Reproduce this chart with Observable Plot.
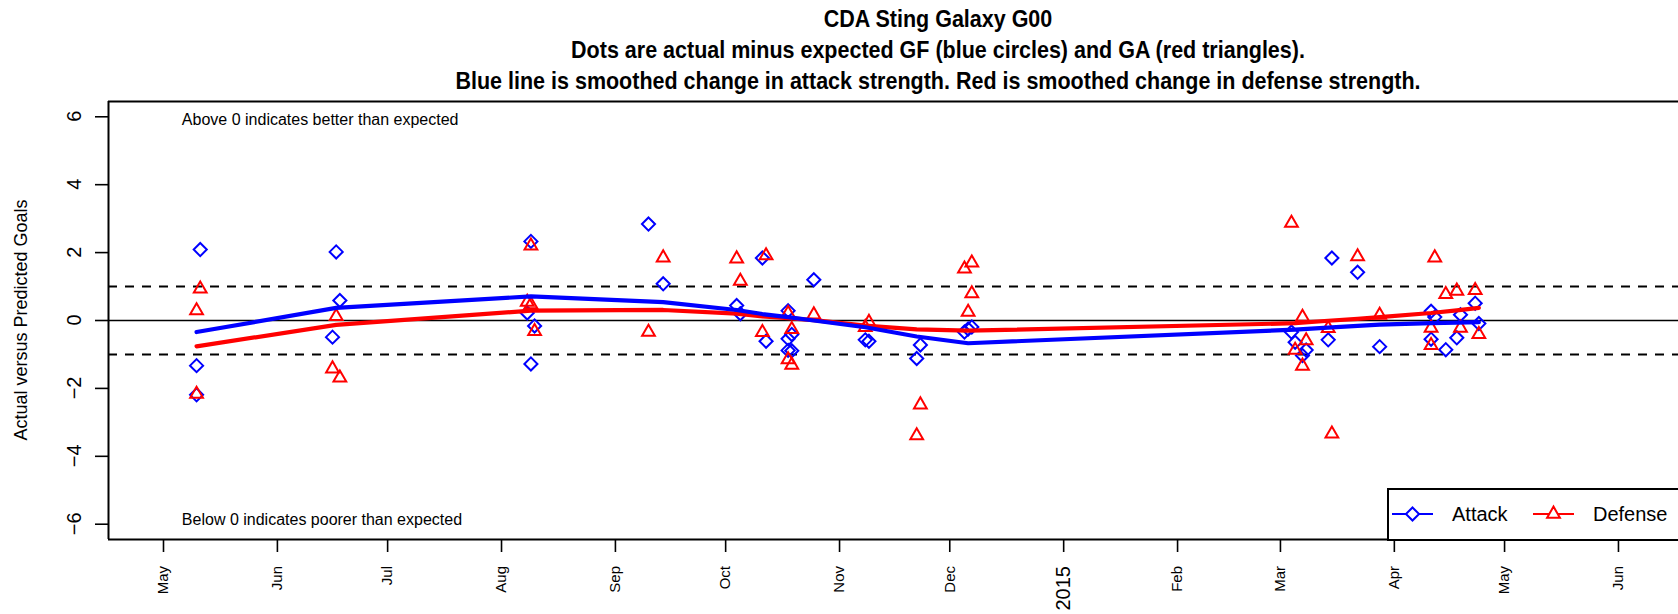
<!DOCTYPE html>
<html><head><meta charset="utf-8">
<script src="https://cdn.jsdelivr.net/npm/d3@7"></script>
<script src="https://cdn.jsdelivr.net/npm/@observablehq/plot@0.6"></script>
<style>
body{margin:0;background:#fff;}
#wrap{position:relative;width:1678px;height:614px;overflow:hidden;font-family:"Liberation Sans",Arial,Helvetica,sans-serif;}
#wrap svg{position:absolute;left:0;top:0;}
#legend{position:absolute;left:1387px;top:488px;width:400px;height:49px;border:2px solid #000;background:#fff;box-sizing:content-box;}
</style></head><body>
<div id="wrap"></div>
<script>
// ---- data ----
const titleLines = [
  "CDA Sting Galaxy G00",
  "Dots are actual minus expected GF (blue circles) and GA (red triangles).",
  "Blue line is smoothed change in attack strength. Red is smoothed change in defense strength."
];
const yLabel = "Actual versus Predicted Goals";
const attackDates = ["2014-05-11","2014-05-10","2014-05-10","2014-06-17","2014-06-18","2014-06-16",
  "2014-08-09","2014-08-08","2014-08-10","2014-08-09","2014-09-10","2014-09-14","2014-10-04","2014-10-05",
  "2014-10-11","2014-10-12","2014-10-18","2014-10-19","2014-10-18","2014-10-18","2014-10-19","2014-10-25",
  "2014-11-08","2014-11-09","2014-11-23","2014-11-22","2014-12-05","2014-12-06","2014-12-07",
  "2015-03-04","2015-03-05","2015-03-08","2015-03-07","2015-03-15","2015-03-14","2015-03-22","2015-03-28",
  "2015-04-11","2015-04-12","2015-04-11","2015-04-15","2015-04-19","2015-04-18","2015-04-23","2015-04-24"];
const attackValues = [2.09,-1.33,-2.19,2.02,0.59,-0.49,
  2.33,0.22,-0.16,-1.28,2.84,1.08,0.44,0.2,
  1.84,-0.61,0.29,-0.41,-0.54,-0.88,-0.89,1.2,
  -0.57,-0.61,-0.72,-1.12,-0.34,-0.25,-0.19,
  -0.34,-0.64,-0.87,-1.03,1.84,-0.57,1.42,-0.77,
  0.27,0.1,-0.55,-0.86,0.17,-0.51,0.51,-0.09];
const defenseDates = ["2014-05-11","2014-05-10","2014-05-10","2014-06-17","2014-06-16","2014-06-18",
  "2014-08-09","2014-08-08","2014-08-09","2014-08-10","2014-09-14","2014-09-10","2014-10-04","2014-10-05",
  "2014-10-11","2014-10-12","2014-10-18","2014-10-19","2014-10-18","2014-10-19","2014-10-25",
  "2014-11-09","2014-11-08","2014-11-23","2014-11-22","2014-12-05","2014-12-07","2014-12-07","2014-12-06",
  "2015-03-04","2015-03-07","2015-03-08","2015-03-05","2015-03-07","2015-03-14","2015-03-15","2015-03-22","2015-03-28",
  "2015-04-12","2015-04-11","2015-04-11","2015-04-15","2015-04-18","2015-04-19","2015-04-23","2015-04-24"];
const defenseValues = [0.93,0.29,-2.17,0.12,-1.42,-1.69,
  2.2,0.54,0.47,-0.32,1.85,-0.34,1.82,1.16,
  -0.35,1.91,0.21,-0.26,-1.15,-1.31,0.17,
  -0.05,-0.2,-2.48,-3.39,1.52,1.7,0.79,0.25,
  2.87,0.1,-0.59,-0.87,-1.34,-0.23,-3.34,1.88,0.16,
  1.85,-0.22,-0.73,0.77,0.87,-0.22,0.89,-0.41];
const smoothDates = ["2014-05-10","2014-06-17","2014-08-09","2014-09-14","2014-10-04","2014-10-11",
  "2014-10-18","2014-10-25","2014-11-08","2014-11-22","2014-12-06","2015-03-05","2015-03-15",
  "2015-03-22","2015-03-28","2015-04-11","2015-04-18","2015-04-24"];
const attackSmooth = [-0.34,0.37,0.71,0.54,0.31,0.19,0.1,0.0,-0.2,-0.47,-0.67,-0.27,-0.2,-0.16,-0.12,-0.08,-0.06,-0.05];
const defenseSmooth = [-0.76,-0.13,0.29,0.31,0.2,0.12,0.07,0.01,-0.15,-0.26,-0.3,-0.08,0.0,0.05,0.1,0.22,0.3,0.37];
const monthTickDates = ["2014-05-01","2014-06-01","2014-07-01","2014-08-01","2014-09-01","2014-10-01",
  "2014-11-01","2014-12-01","2015-02-01","2015-03-01","2015-04-01","2015-05-01","2015-06-01"];
const monthTickLabels = ["May","Jun","Jul","Aug","Sep","Oct","Nov","Dec","Feb","Mar","Apr","May","Jun"];
const yearTickDates = ["2015-01-01"];
const yearTickLabels = ["2015"];
const yTicks = [-6,-4,-2,0,2,4,6];
const bandLines = [-1,1];
const noteTexts = ["Above 0 indicates better than expected","Below 0 indicates poorer than expected"];
const noteDates = ["2014-05-06","2014-05-06"];
const noteValues = [5.92,-5.87];
const legendNames = ["Attack","Defense"];

// ---- tables ----
const attack = attackDates.map((d,i)=>({date:new Date(d), v:attackValues[i]}));
const defense = defenseDates.map((d,i)=>({date:new Date(d), v:defenseValues[i]}));
const smoothA = smoothDates.map((d,i)=>({date:new Date(d), v:attackSmooth[i]}));
const smoothD = smoothDates.map((d,i)=>({date:new Date(d), v:defenseSmooth[i]}));
const notes = noteTexts.map((t,i)=>({text:t, date:new Date(noteDates[i]), v:noteValues[i]}));
const mTicks = monthTickDates.map((d,i)=>({date:new Date(d), label:monthTickLabels[i], size:15}));
const yrTicks = yearTickDates.map((d,i)=>({date:new Date(d), label:yearTickLabels[i], size:20}));
const allTicks = mTicks.concat(yrTicks);

const xDomain = [new Date("2014-04-16T00:45Z"), new Date("2015-06-17T08:10Z")];
const yDomain = [-6.45, 6.45];
const BLUE = "#0000ff", RED = "#ff0000";
const fmtY = d => d < 0 ? "\u2212" + Math.abs(d) : String(d);
const TICK = 13, LABEL_GAP = 27;
const ML = 108, MT = 101, MB = 75, W = 1678, H = 614;

const chart = Plot.plot({
  width: W, height: H,
  marginLeft: ML, marginRight: 0, marginTop: MT, marginBottom: MB,
  style: {fontFamily: '"Liberation Sans", Arial, Helvetica, sans-serif', background: "white", color: "black"},
  x: {type: "utc", domain: xDomain},
  y: {domain: yDomain},
  marks: [
    Plot.ruleY([0], {stroke: "black", strokeWidth: 1.6}),
    Plot.ruleY(bandLines, {stroke: "black", strokeWidth: 2, strokeDasharray: "9,8"}),
    Plot.dot(attack, {x: "date", y: "v", symbol: "diamond2", r: 5.9, stroke: BLUE, strokeWidth: 2, fill: "none"}),
    Plot.dot(defense, {x: "date", y: "v", symbol: "triangle2", r: 6.1, stroke: RED, strokeWidth: 2, fill: "none"}),
    Plot.line(smoothD, {x: "date", y: "v", stroke: RED, strokeWidth: 4.2, curve: "linear"}),
    Plot.line(smoothA, {x: "date", y: "v", stroke: BLUE, strokeWidth: 4.2, curve: "linear"}),
    Plot.text(notes, {x: "date", y: "v", text: "text", textAnchor: "start", lineAnchor: "middle", fontSize: 16, fill: "black"}),
    // box (left, top, bottom; right side lies beyond the picture)
    Plot.ruleX([xDomain[0]], {stroke: "black", strokeWidth: 2}),
    Plot.ruleY(yDomain, {stroke: "black", strokeWidth: 2}),
    // ticks (labels drawn below with the same scales)
    Plot.axisY(yTicks, {tickSize: TICK, strokeWidth: 1.6, tickFormat: () => "", label: null}),
    Plot.axisX(allTicks.map(d => d.date), {tickSize: TICK, strokeWidth: 1.6, tickFormat: () => "", label: null})
  ]
});

const wrap = document.getElementById("wrap");
wrap.appendChild(chart);
const xs = chart.scale("x"), ys = chart.scale("y");

const over = d3.select(wrap).append("svg").attr("width", W).attr("height", H).style("pointer-events","none")
  .attr("font-family", '"Liberation Sans", Arial, Helvetica, sans-serif');

// y tick labels (rotated, reading upward, baseline toward the axis)
over.selectAll("text.yt").data(yTicks).join("text").attr("class","yt")
  .attr("transform", d => `translate(${ML - LABEL_GAP},${ys.apply(d)}) rotate(-90)`)
  .attr("text-anchor","middle").attr("font-size",20).attr("fill","black").text(fmtY);

// x tick labels (rotated, top end 27px below the axis)
over.selectAll("text.xt").data(allTicks).join("text").attr("class","xt")
  .attr("transform", d => `translate(${xs.apply(d.date)},${H - MB + LABEL_GAP}) rotate(-90)`)
  .attr("text-anchor","end").attr("dy","0.35em").attr("font-size", d => d.size).attr("fill","black").text(d => d.label);

// titles (slightly condensed bold face)
const titleX = 938, titleBase = [26.5, 57.5, 88.5];
over.selectAll("text.t").data(titleLines).join("text").attr("class","t")
  .attr("transform",(d,i)=>`translate(${titleX},${titleBase[i]}) scale(0.915,1)`).attr("text-anchor","middle")
  .attr("font-weight","bold").attr("font-size",23.5).attr("fill","black").text(d=>d);
// y axis label
over.append("text").attr("transform",`translate(27,${(MT + H - MB) / 2}) rotate(-90)`).attr("text-anchor","middle")
  .attr("font-size",18).attr("fill","black").text(yLabel);

// legend
const leg = d3.select(wrap).append("div").attr("id","legend");
const ls = leg.append("svg").attr("width",400).attr("height",49).style("position","absolute").style("left","0").style("top","0");
const items = [{name:legendNames[0], color:BLUE, sym:d3.symbolDiamond2, r:5.9, x0:3},
               {name:legendNames[1], color:RED, sym:d3.symbolTriangle2, r:6.1, x0:144}];
items.forEach(it=>{
  ls.append("line").attr("x1",it.x0).attr("x2",it.x0+41).attr("y1",24).attr("y2",24).attr("stroke",it.color).attr("stroke-width",2);
  ls.append("path").attr("d",d3.symbol(it.sym, Math.PI*it.r*it.r)()).attr("transform",`translate(${it.x0+20.5},24)`)
    .attr("fill","white").attr("stroke",it.color).attr("stroke-width",2);
  ls.append("text").attr("x",it.x0+60).attr("y",31).attr("font-size",20).attr("fill","black").text(it.name);
});
</script>
</body></html>
